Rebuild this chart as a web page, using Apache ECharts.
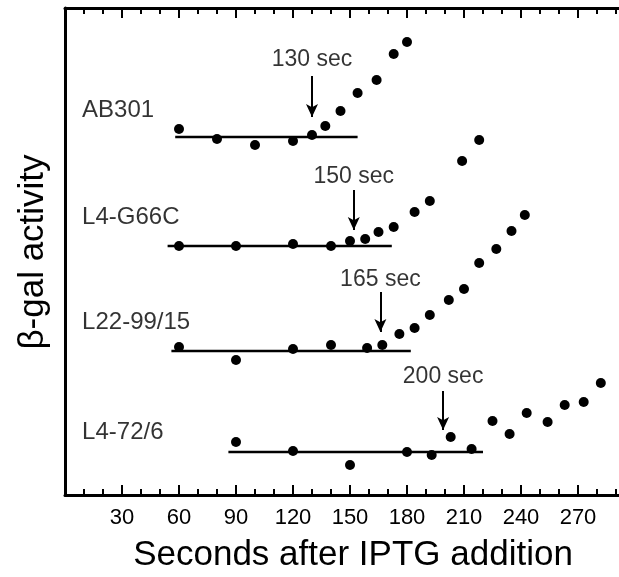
<!DOCTYPE html>
<html><head><meta charset="utf-8">
<script src="https://cdn.jsdelivr.net/npm/echarts@6/dist/echarts.min.js"></script>
<style>html,body{margin:0;padding:0;background:#fff}#c{width:619px;height:577px}</style>
</head><body><div id="c"></div>
<script>
// x: seconds after IPTG addition; y: arbitrary activity units (stacked traces)
const strainNames = ["AB301", "L4-G66C", "L22-99/15", "L4-72/6"];
const xTickLabels = [30, 60, 90, 120, 150, 180, 210, 240, 270];

const ab301X = [60, 80, 100, 120, 130, 137, 145, 154, 164, 173, 180];
const ab301Y = [366, 356, 350, 354, 360, 369, 384, 402, 415, 441, 453];
const g66cX = [60, 90, 120, 140, 150, 158, 165, 173, 184, 192, 209, 218];
const g66cY = [249, 249, 251, 249, 254, 256, 263, 268, 283, 294, 334, 355];
const l22X = [60, 90, 120, 140, 159, 167, 176, 184, 192, 202, 210, 218, 227, 235, 242];
const l22Y = [148, 135, 146, 150, 147, 150, 161, 167, 180, 195, 206, 232, 246, 264, 280];
const l4X = [90, 120, 150, 180, 193, 203, 214, 225, 234, 243, 254, 263, 273, 282];
const l4Y = [53, 44, 30, 43, 40, 58, 46, 74, 61, 82, 73, 90, 93, 112];

// baselines
const baseStart = [58, 54, 56, 86];
const baseEnd = [154, 172, 182, 220];
const baseY = [358, 249, 144, 43];

// lag arrows
const lagText = ["130 sec", "150 sec", "165 sec", "200 sec"];
const lagX = [130, 152, 166, 199];
const arrowTopY = [419, 305, 203, 104];
const arrowBottomY = [378, 265, 163, 65];
const lagLabelY = [435, 318, 215, 118];

// strain label anchors
const strainLabelX = [9, 9, 9, 9];
const strainLabelY = [385, 278, 173, 63];

const FONT = "Liberation Sans, Arial, sans-serif";
const zip = (a, b) => a.map((v, i) => [v, b[i]]);

const series = [];
[[ab301X, ab301Y], [g66cX, g66cY], [l22X, l22Y], [l4X, l4Y]].forEach(([xs, ys], i) => {
  series.push({
    type: 'scatter', name: strainNames[i], data: zip(xs, ys),
    symbolSize: 10, itemStyle: { color: '#000', opacity: 1 }, z: 3
  });
  series.push({
    type: 'line', data: [[baseStart[i], baseY[i]], [baseEnd[i], baseY[i]]],
    showSymbol: false, symbol: 'none', lineStyle: { color: '#000', width: 2.5 }, z: 2,
    markLine: {
      silent: true, symbol: ['none', 'arrow'], symbolSize: [9, 13],
      lineStyle: { color: '#000', width: 2, type: 'solid' },
      label: { show: false },
      data: [[{ coord: [lagX[i], arrowTopY[i]] }, { coord: [lagX[i], arrowBottomY[i]] }]]
    }
  });
});
series.push({
  type: 'scatter', symbolSize: 0, silent: true,
  data: lagText.map((t, i) => ({ value: [lagX[i], lagLabelY[i]], name: t })),
  label: { show: true, position: 'inside', formatter: p => p.name, color: '#000', fontSize: 23, fontFamily: FONT }
});
series.push({
  type: 'scatter', symbolSize: 0, silent: true,
  data: strainNames.map((t, i) => ({ value: [strainLabelX[i], strainLabelY[i]], name: t })),
  label: { show: true, position: 'right', distance: 0, formatter: p => p.name, color: '#000', fontSize: 24, fontFamily: FONT }
});

const tickCommon = {
  type: 'value', min: 0, max: 300, interval: 30,
  axisLine: { show: true, onZero: false, lineStyle: { color: '#000', width: 3 } },
  axisTick: { show: true, inside: true, length: 10, lineStyle: { color: '#000', width: 2 } },
  minorTick: { show: true, splitNumber: 3, length: 6, lineStyle: { color: '#000', width: 2 } },
  splitLine: { show: false }, minorSplitLine: { show: false }
};

const chart = echarts.init(document.getElementById('c'), null, { renderer: 'canvas' });
chart.setOption({
  animation: false,
  backgroundColor: '#fff',
  grid: { left: 65, top: 8, width: 570, height: 487, containLabel: false, outerBoundsMode: 'none' },
  xAxis: [
    Object.assign({}, tickCommon, {
      position: 'bottom',
      axisLabel: {
        show: true, margin: 12, color: '#000', fontSize: 22, fontFamily: FONT,
        formatter: v => (xTickLabels.indexOf(v) >= 0 ? String(v) : '')
      }
    }),
    Object.assign({}, tickCommon, { position: 'top', axisLabel: { show: false } })
  ],
  yAxis: {
    type: 'value', min: 0, max: 487,
    axisLine: { show: true, lineStyle: { color: '#000', width: 3 } },
    axisTick: { show: false }, axisLabel: { show: false }, splitLine: { show: false }
  },
  graphic: [
    { type: 'text', x: 353, y: 555, style: { text: 'Seconds after IPTG addition', font: '35px ' + FONT, fill: '#000', textAlign: 'center', textVerticalAlign: 'middle' } },
    { type: 'text', x: 33, y: 252, rotation: Math.PI / 2, style: { text: 'β-gal activity', font: '35px ' + FONT, fill: '#000', textAlign: 'center', textVerticalAlign: 'middle' } }
  ],
  series: series
});
</script></body></html>
